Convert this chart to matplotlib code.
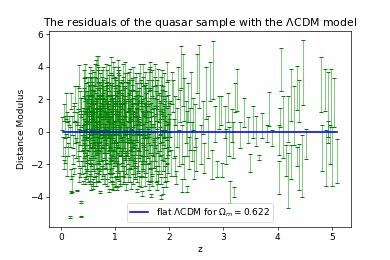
import numpy as np
import matplotlib
matplotlib.use("Agg")
import matplotlib.pyplot as plt

# ---- data ----
zA = [0.03,0.04,0.05,0.06,0.07,0.08,0.09,0.10,0.11,0.12,
      0.13,0.14,0.15,0.16,0.17,0.18,0.19,0.20,0.21,0.22,
      0.23,0.24,0.25,0.26,0.27,0.28,0.29,0.30,0.19,0.25]
muA = [0.5,-0.9,1.2,-2.0,0.3,-1.4,1.6,-0.5,0.9,-2.1,
       0.2,-1.1,0.7,-0.3,-5.25,-2.6,1.9,-3.2,0.4,-1.7,
       -0.6,1.1,-2.4,0.0,2.3,-1.0,-3.6,0.8,-3.7,1.5]
eA = [0.4,0.6,0.5,0.3,0.7,0.5,0.8,0.4,0.3,0.6,
      0.5,0.4,0.3,0.6,0.05,0.3,0.5,0.5,0.6,0.3,
      0.4,0.5,0.2,0.7,0.5,0.6,0.05,0.4,0.05,0.3]

zB = [0.31,0.32,0.33,0.34,0.35,0.36,0.37,0.37,0.38,0.39,
      0.40,0.41,0.42,0.43,0.44,0.45,0.46,0.47,0.48,0.49,
      0.32,0.35,0.38,0.41,0.43,0.46,0.48,0.50,0.44,0.39,
      0.33,0.36,0.40,0.42,0.45,0.47,0.49,0.50,0.34,0.30]
muB = [-1.2,2.1,-2.8,3.4,0.6,-0.4,-5.2,1.5,-4.3,-2.2,
       0.3,-1.6,2.7,-0.9,1.0,-3.0,0.1,2.2,-1.9,0.8,
       0.9,-2.5,1.2,-0.2,3.0,-1.3,0.5,-2.9,1.8,-0.7,
       -0.5,1.9,-3.1,0.4,-0.8,1.3,-2.3,2.6,-1.8,0.0]
eB = [0.6,0.7,0.3,0.7,0.5,0.4,0.05,0.6,0.08,0.4,
      0.8,0.5,0.6,0.7,0.9,0.2,0.6,0.8,0.5,0.6,
      0.5,0.3,0.9,0.6,0.8,0.5,0.9,0.2,0.7,0.5,
      0.7,0.6,0.1,0.9,0.5,0.7,0.4,0.8,0.3,0.6]

zC = [0.51,0.52,0.53,0.54,0.55,0.56,0.57,0.58,0.59,0.60,
      0.61,0.62,0.63,0.64,0.65,0.66,0.67,0.68,0.69,0.70,
      0.71,0.72,0.73,0.74,0.75,0.76,0.77,0.78,0.79,0.80,
      0.52,0.55,0.58,0.61,0.64,0.67,0.70,0.73,0.76,0.79,
      0.53,0.56,0.59,0.62,0.65,0.68,0.71,0.74,0.77,0.80,
      0.54,0.57,0.60,0.63,0.66,0.69,0.72,0.75,0.78,0.66]
muC = [1.4,-0.6,3.1,-2.0,0.5,2.3,-1.2,0.9,-3.3,1.7,
       -0.3,2.8,0.2,-1.7,3.6,-0.8,1.1,-2.6,3.9,0.4,
       -1.4,2.0,-3.7,0.7,1.6,-0.1,3.2,-2.2,0.9,-0.9,
       0.1,-1.5,2.4,1.0,-0.4,0.6,-1.9,2.7,1.3,-2.9,
       2.0,0.3,-0.8,-2.4,1.2,3.0,0.0,-1.1,1.9,0.5,
       -2.7,1.5,0.8,3.5,-0.2,-1.3,0.4,2.2,-0.6,4.4]
eC = [0.8,0.6,0.9,0.4,0.7,1.0,0.5,0.8,0.2,0.9,
      0.7,0.9,1.0,0.6,0.8,0.5,0.9,0.4,0.8,1.0,
      0.6,0.9,0.05,0.8,0.7,0.9,0.8,0.5,1.0,0.7,
      0.9,0.6,0.7,0.8,1.0,0.9,0.7,0.9,0.8,0.3,
      0.9,1.0,0.8,0.4,0.9,0.8,1.0,0.7,0.9,0.8,
      0.3,0.8,0.9,0.7,0.8,0.6,1.0,0.9,0.7,0.3]

zD = [0.81,0.82,0.83,0.84,0.85,0.86,0.87,0.88,0.89,0.90,
      0.91,0.92,0.93,0.94,0.95,0.96,0.97,0.98,0.99,1.00,
      1.01,1.02,1.03,1.04,1.05,1.06,1.07,1.08,1.09,1.10,
      0.82,0.85,0.88,0.91,0.94,0.97,1.00,1.03,1.06,1.09,
      0.83,0.86,0.89,0.92,0.95,0.98,1.01,1.04,1.07,1.10,
      0.84,0.87,0.90,0.93,0.96,0.99,1.02,1.05,1.08,0.95]
muD = [1.1,-1.6,2.5,0.2,-3.1,1.8,-0.5,3.3,0.7,-2.1,
       0.0,2.9,-1.0,1.4,-2.6,0.6,3.8,-0.3,1.9,-1.5,
       2.4,-0.7,0.9,-3.5,1.6,-1.9,0.3,2.7,-0.2,-2.8,
       -0.4,0.8,-1.8,2.1,-0.9,1.2,0.4,-2.3,3.0,0.9,
       3.6,-2.4,0.5,-0.1,2.2,-1.2,-3.0,1.3,0.7,1.8,
       0.2,1.5,-0.7,-2.0,0.9,2.6,-1.4,0.0,-0.6,-3.3]
eD = [0.9,0.6,0.8,1.0,0.2,0.9,0.8,0.8,1.0,0.5,
      0.9,0.7,0.8,0.9,0.4,1.0,0.5,0.9,0.8,0.6,
      0.8,0.9,1.0,0.1,0.9,0.6,0.9,0.8,1.0,0.4,
      0.9,1.0,0.7,0.9,0.8,0.9,1.0,0.5,0.8,0.9,
      0.6,0.5,0.9,1.0,0.8,0.7,0.3,0.9,0.9,0.8,
      1.0,0.8,0.9,0.6,1.0,0.8,0.7,1.0,0.8,0.2]

zE = [1.11,1.12,1.13,1.14,1.15,1.16,1.17,1.18,1.19,1.20,
      1.21,1.22,1.23,1.24,1.25,1.26,1.27,1.28,1.29,1.30,
      1.31,1.32,1.33,1.34,1.35,1.36,1.37,1.38,1.39,1.40,
      1.12,1.15,1.18,1.21,1.24,1.27,1.30,1.33,1.36,1.39,
      1.13,1.16,1.19,1.22,1.25,1.28,1.31,1.34,1.37,1.40]
muE = [0.6,-1.7,2.3,-0.4,3.4,-2.6,1.0,-0.9,1.9,-3.4,
       0.3,2.8,-1.2,0.9,-2.2,1.5,-0.1,3.1,-1.6,0.5,
       -0.8,2.0,-2.9,1.2,0.0,-1.5,2.6,-0.5,1.7,-3.6,
       1.4,-0.2,0.8,-2.0,2.2,-0.9,1.1,0.3,-2.4,0.8,
       -1.1,1.9,3.7,-0.6,0.5,-2.7,2.4,-1.3,0.2,1.6]
eE = [1.0,0.7,0.9,0.9,0.8,0.5,1.0,0.8,0.9,0.2,
      0.9,0.8,0.8,1.0,0.6,0.9,1.0,0.8,0.7,1.0,
      0.9,0.9,0.3,0.9,1.0,0.7,0.8,0.9,0.8,0.1,
      0.9,1.0,1.0,0.6,0.9,0.8,0.9,1.0,0.5,0.9,
      0.8,0.9,0.6,0.9,1.0,0.4,0.8,0.8,1.0,0.9]

zF = [1.41,1.42,1.44,1.45,1.47,1.48,1.50,1.51,1.53,1.54,
      1.56,1.57,1.59,1.60,1.62,1.63,1.65,1.66,1.68,1.69,
      1.43,1.46,1.49,1.52,1.55,1.58,1.61,1.64,1.67,1.70,
      1.44,1.48,1.52,1.56,1.60,1.64,1.68,1.50,1.58,1.66]
muF = [0.4,-1.8,2.7,-0.3,1.3,-3.1,0.9,3.5,-1.0,0.1,
       -2.3,1.8,-0.6,2.4,-3.4,0.7,-1.5,1.2,3.0,-0.4,
       1.6,-0.9,-2.1,0.6,2.0,-1.2,0.3,-2.7,0.9,1.9,
       -0.2,2.2,-1.6,0.8,-0.7,3.3,-2.0,-3.8,1.5,-3.9]
eF = [1.0,0.7,0.9,0.9,0.9,0.3,1.0,0.7,0.8,1.0,
      0.5,0.9,0.9,0.8,0.2,1.0,0.7,0.9,0.8,0.9,
      0.9,0.9,0.6,1.0,0.9,0.8,1.0,0.4,0.9,0.9,
      1.0,0.8,0.7,1.0,0.9,0.7,0.6,0.15,0.9,0.1]

zG = [1.71,1.72,1.74,1.75,1.77,1.78,1.80,1.81,1.83,1.84,
      1.86,1.87,1.89,1.90,1.92,1.93,1.95,1.96,1.98,1.99,
      1.73,1.76,1.79,1.82,1.85,1.88,1.91,1.94,1.97,2.00,
      1.78,1.85,1.92,1.96,1.82]
muG = [0.5,-1.4,2.5,-2.6,1.1,-0.3,3.1,-1.9,0.8,-4.0,
       1.7,-0.8,0.2,2.8,-2.2,1.0,-1.1,3.7,-0.4,0.9,
       -0.9,1.6,-2.9,0.3,2.0,-1.7,0.6,-3.2,1.4,-0.2,
       2.3,-3.0,0.0,-2.5,-0.6]
eG = [1.0,0.8,0.9,0.5,0.9,1.0,0.8,0.7,1.0,0.1,
      0.9,0.9,1.0,0.8,0.6,0.9,0.8,0.6,1.0,0.9,
      0.9,0.9,0.3,1.0,0.9,0.7,1.0,0.2,0.9,1.0,
      0.9,0.2,1.0,0.5,0.9]

zH = [2.02,2.04,2.06,2.08,2.10,2.12,2.14,2.16,2.18,2.20,
      2.22,2.24,2.26,2.28,2.30,2.32,2.34,2.36,2.38,2.40,
      2.42,2.44,2.46,2.48,2.50,2.23,2.27,2.33,2.11,2.05]
muH = [0.8,-1.9,2.2,-0.4,1.3,-2.8,0.3,3.0,-1.0,1.6,
       4.0,-0.8,3.2,-2.2,0.6,-3.5,1.8,-1.3,0.2,2.6,
       -0.6,1.1,-2.0,0.4,-1.4,-3.3,2.0,-0.1,-2.1,2.7]
eH = [1.1,0.8,1.0,1.2,0.9,0.4,1.2,1.0,1.1,1.0,
      1.3,1.2,1.6,0.7,1.3,0.2,1.2,1.0,1.3,1.1,
      1.2,1.0,0.9,1.3,1.0,0.4,1.3,1.4,0.6,1.0]

zI = [2.51,2.55,2.58,2.62,2.65,2.68,2.72,2.76,2.78,2.80,
      2.84,2.88,2.92,2.95,2.98,3.02,3.05,3.08,3.10,3.12,
      3.15,3.18,3.20,3.22,3.25,3.30,3.38,3.45,3.49,3.54,
      3.60,3.66,3.72,3.80,3.84,3.90,4.02,4.03,4.05,4.07,
      4.09,4.15,4.19,4.20,4.24,4.25,4.30,4.35,4.36,4.39,
      4.40,4.44,4.47,4.52,4.80,4.82,4.88,4.89,4.92,4.93,
      4.96,4.99,5.01,5.04,5.10]
muI = [3.6,3.4,-0.8,0.9,-1.6,2.4,-0.3,3.1,-2.0,3.8,
       0.5,-2.3,1.2,1.3,-2.35,0.6,-0.9,1.5,-0.6,-3.7,
       0.4,-0.5,-3.7,2.1,2.6,-0.2,1.2,0.1,-1.9,0.6,
       0.05,-1.6,0.4,-0.1,1.4,-0.37,-0.5,-2.8,0.9,3.82,
       0.3,-1.75,-3.0,0.8,2.3,-1.85,1.0,2.7,-1.5,1.9,
       -2.15,-2.1,3.65,-0.75,2.9,-1.0,2.6,-1.6,1.5,0.2,
       -0.8,2.1,-1.5,1.8,-1.8]
eI = [1.2,1.95,1.2,1.0,0.9,1.6,1.3,1.2,0.9,1.8,
      1.1,0.5,1.0,0.9,0.45,1.0,1.1,0.9,0.9,0.65,
      1.0,1.1,0.3,0.9,1.3,0.8,0.9,0.8,0.55,1.0,
      0.9,0.15,0.75,0.5,1.05,0.5,0.95,1.0,0.6,1.33,
      1.9,0.97,1.7,1.4,1.6,1.05,1.8,1.35,0.6,1.3,
      1.4,1.9,2.0,0.9,1.7,1.4,1.3,1.7,2.2,0.5,
      1.2,1.8,1.8,1.5,1.35]

zJ = [0.41,0.42,0.44,0.45,0.47,0.48,0.50,0.51,0.53,0.54,
      0.56,0.57,0.59,0.60,0.62,0.63,0.65,0.66,0.68,0.69,
      0.71,0.72,0.74,0.75,0.77,0.78,0.43,0.46,0.49,0.52,
      0.55,0.58,0.61,0.64,0.67,0.70,0.73,0.76,0.79,0.62,
      0.45,0.50,0.55,0.60,0.65,0.70,0.75,0.68,0.58,0.48,
      0.42,0.47,0.52,0.57,0.63,0.67,0.72,0.77,0.64,0.54,
      0.59,0.61,0.66,0.71,0.74,0.79,0.69,0.56,0.51,0.44,
      0.73,0.76,0.63,0.53,0.49,0.57,0.60,0.65,0.70,0.78]
muJ = [0.8,1.9,-0.4,2.6,0.2,-1.1,1.4,0.6,-0.2,2.9,
       1.1,-0.7,0.5,2.1,1.6,-1.3,0.9,2.4,-0.5,1.3,
       0.3,1.8,-1.0,2.7,0.7,1.2,-1.4,0.4,1.0,-0.9,
       1.7,0.0,-1.8,1.5,-0.6,2.2,0.6,-1.6,1.9,0.2,
       -2.0,2.3,-2.3,0.1,-2.8,-0.2,-2.5,3.3,3.0,1.6,
       -0.1,-2.6,0.6,1.0,2.6,-1.9,1.1,0.1,-3.0,-1.2,
       -1.5,0.7,1.8,-2.7,0.9,-0.5,-0.9,-3.4,2.0,3.8,
       -1.8,3.0,-0.7,-2.9,-1.7,2.6,-3.1,0.4,1.4,2.4]
eJ = [0.7,0.8,0.9,0.7,1.0,0.8,0.9,1.0,0.8,0.7,
      0.9,0.8,1.0,0.8,0.9,0.7,1.0,0.9,0.8,1.0,
      1.0,0.9,0.8,0.7,1.0,0.9,0.7,0.9,1.0,0.8,
      0.9,1.0,0.6,0.9,0.8,0.8,1.0,0.7,0.9,1.0,
      0.5,0.8,0.4,1.0,0.3,0.9,0.4,0.7,0.8,0.9,
      0.9,0.3,1.0,0.9,0.8,0.6,1.0,0.9,0.3,0.8,
      0.8,1.0,0.9,0.4,0.9,0.8,0.9,0.2,0.8,0.4,
      0.6,0.8,0.9,0.3,0.6,0.8,0.2,1.0,0.9,0.8]

zK = [0.81,0.82,0.84,0.85,0.87,0.88,0.90,0.91,0.93,0.94,
      0.96,0.97,0.99,1.00,1.02,1.03,1.05,1.06,1.08,1.09,
      1.11,1.12,1.14,1.15,1.17,1.18,1.19,0.83,0.86,0.89,
      0.92,0.95,0.98,1.01,1.04,1.07,1.10,1.13,1.16,1.20,
      0.85,0.90,0.95,1.00,1.05,1.10,1.15,1.18,0.93,0.88,
      0.82,0.87,0.92,0.97,1.02,1.07,1.12,1.17,1.03,0.98,
      0.84,0.89,0.94,0.99,1.04,1.09,1.14,1.19,0.96,1.06,
      0.81,0.86,0.91,0.96,1.01,1.08,1.13,1.16,1.00,0.90]
muK = [0.5,1.7,-0.8,2.3,0.9,-0.3,1.4,-1.2,2.0,0.3,
       1.2,-0.5,0.8,2.5,-1.0,1.6,0.1,-1.7,1.9,0.6,
       -0.4,2.2,0.7,-2.1,1.3,-0.8,2.9,-1.5,0.2,2.7,
       -2.2,1.0,-1.3,0.4,2.1,-2.5,-0.6,1.5,0.0,-1.9,
       3.0,-2.7,2.8,-3.1,3.2,2.4,-2.8,0.9,4.1,-3.6,
       -1.1,0.6,1.1,-1.8,0.3,1.2,-1.3,-0.2,-2.4,3.4,
       1.9,-0.2,-0.7,1.6,-1.6,-3.0,2.6,1.8,-3.4,4.0,
       -2.9,2.0,0.0,0.9,-0.9,3.1,0.4,-2.2,1.3,-1.0]
eK = [1.0,0.9,0.9,0.8,1.0,0.9,0.9,0.8,0.9,1.0,
      0.9,1.0,1.0,0.8,0.9,0.9,1.0,0.7,0.9,1.0,
      1.0,0.8,1.0,0.6,0.9,0.9,0.7,0.8,1.0,0.8,
      0.6,1.0,0.8,1.0,0.8,0.5,0.9,0.9,1.0,0.7,
      0.8,0.4,0.7,0.3,0.8,0.7,0.4,1.0,0.5,0.1,
      0.9,1.0,0.9,0.7,1.0,0.9,0.8,1.0,0.5,0.6,
      0.9,1.0,0.9,0.9,0.8,0.3,0.8,0.9,0.2,0.4,
      0.3,0.9,1.0,1.0,0.9,0.7,1.0,0.6,1.0,0.8]

zL = [1.21,1.22,1.24,1.25,1.27,1.28,1.30,1.31,1.33,1.34,
      1.36,1.37,1.39,1.40,1.42,1.43,1.45,1.46,1.48,1.49,
      1.51,1.52,1.54,1.55,1.57,1.58,1.60,1.23,1.26,1.29,
      1.32,1.35,1.38,1.41,1.44,1.47,1.50,1.53,1.56,1.59,
      1.22,1.28,1.34,1.40,1.46,1.52,1.58,1.30,1.42,1.54,
      1.25,1.31,1.37,1.43,1.49,1.55,1.33,1.45,1.57,1.27]
muL = [1.0,-0.6,2.1,0.3,-1.4,1.7,-0.2,2.5,0.8,-2.0,
       1.3,-0.9,0.5,2.2,-1.7,0.9,1.8,-0.4,-2.3,1.1,
       0.2,2.6,-1.2,0.7,-0.1,1.5,-2.5,-2.7,3.0,-0.8,
       1.6,-1.9,2.8,0.0,-3.0,2.4,-1.1,1.9,-2.9,0.6,
       -0.3,0.4,3.3,-2.6,3.6,-1.6,2.1,-3.3,0.8,-0.5,
       2.3,-1.3,-2.2,1.4,0.3,2.9,0.1,-0.7,-1.8,0.9]
eL = [1.0,0.9,0.9,1.0,0.8,0.9,1.0,0.8,1.0,0.6,
      0.9,0.9,1.0,0.8,0.7,1.0,0.9,1.0,0.5,0.9,
      1.0,0.8,0.8,1.0,1.0,0.9,0.5,0.4,0.7,0.9,
      0.9,0.7,0.8,1.0,0.3,0.8,0.9,0.9,0.4,1.0,
      1.0,1.0,0.7,0.5,0.6,0.8,0.9,0.2,1.0,1.0,
      0.9,0.8,0.6,0.9,1.0,0.8,1.0,0.9,0.7,1.0]

zM = [1.61,1.63,1.64,1.66,1.67,1.69,1.70,1.72,1.73,1.75,
      1.76,1.78,1.79,1.81,1.82,1.84,1.85,1.87,1.88,1.90,
      1.91,1.93,1.94,1.96,1.97,1.99,1.62,1.68,1.74,1.80,
      1.86,1.92,1.98,1.65,1.71,1.77,1.83,1.89,1.95,1.64]
muM = [0.9,-1.0,1.8,0.2,-2.4,2.3,-0.5,1.2,0.0,-1.6,
       2.0,0.6,-1.2,1.5,-0.2,2.6,-2.0,0.4,1.9,-0.9,
       0.7,-2.6,1.3,-0.6,2.4,0.1,3.2,-3.0,3.5,-2.8,
       3.0,1.6,-1.7,-0.3,-1.3,-3.3,0.9,-3.6,0.5,4.0]
eM = [1.0,0.9,0.9,1.0,0.6,0.9,1.0,0.9,1.0,0.8,
      0.9,1.0,0.9,0.9,1.0,0.8,0.6,1.0,0.9,0.9,
      1.0,0.5,0.9,1.0,0.8,1.0,0.7,0.3,0.7,0.4,
      0.8,0.9,0.8,1.0,0.9,0.3,1.0,0.2,1.0,0.3]

model_z = [0.04, 5.1]
model_resid = [0.0, 0.0]
omega_m = 0.622

z = np.array(zA + zB + zC + zD + zE + zF + zG + zH + zI + zJ + zK + zL + zM)
mu = np.array(muA + muB + muC + muD + muE + muF + muG + muH + muI + muJ + muK + muL + muM)
err = np.array(eA + eB + eC + eD + eE + eF + eG + eH + eI + eJ + eK + eL + eM)

plt.rcParams['font.size'] = 10.7

fig, ax = plt.subplots(figsize=(6.4, 4.267), dpi=60.94)
fig.subplots_adjust(left=0.125, right=0.9, top=0.88, bottom=0.127)

eb = ax.errorbar(z, mu, yerr=err, fmt='none', ecolor='green',
                 elinewidth=1.3, capsize=2.0, capthick=1.2)
eb[2][0].set_alpha(0.45)
ax.plot(model_z, model_resid, color='blue', lw=1.9,
        label=r'flat $\Lambda$CDM for $\Omega_m = %.3f$' % omega_m)

ax.set_title(r'The residuals of the quasar sample with the $\Lambda$CDM model',
             fontsize=12.8)
ax.set_xlabel('z')
ax.set_ylabel('Distance Modulus')
ax.legend(loc='lower center')

fig.savefig('out.png', dpi=60.94)
